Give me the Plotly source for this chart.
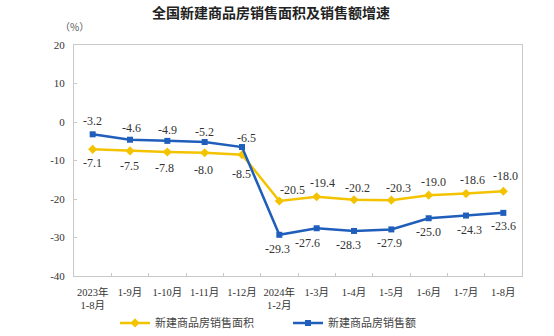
import plotly.graph_objects as go

categories = ["2023年<br>1-8月", "1-9月", "1-10月", "1-11月", "1-12月", "2024年<br>1-2月",
              "1-3月", "1-4月", "1-5月", "1-6月", "1-7月", "1-8月"]
area_growth = [-7.1, -7.5, -7.8, -8.0, -8.5, -20.5, -19.4, -20.2, -20.3, -19.0, -18.6, -18.0]
sales_growth = [-3.2, -4.6, -4.9, -5.2, -6.5, -29.3, -27.6, -28.3, -27.9, -25.0, -24.3, -23.6]
series_names = ["新建商品房销售面积", "新建商品房销售额"]
y_ticks = [20, 10, 0, -10, -20, -30, -40]

YELLOW = "#F4C300"
BLUE = "#1F5EBA"
SERIF = "Liberation Serif, Noto Sans CJK SC"

x = list(range(len(categories)))

# label offsets in pixels (styling only)
area_dx = [0, -1, -3, -1, -1, 13, 6, 3, 7, 5, 6, 2]
area_dy = [14, 15, 16, 17, 19, -11, -14, -12, -12, -13, -14, -15]
sales_dx = [0, 1, 0, 0, 4, -2, -9, -6, -2, 0, 3, 0]
sales_dy = [-13, -12, -11, -10, -9, 14, 15, 14, 14, 14, 14, 13]

fig = go.Figure()
fig.add_trace(go.Scatter(
    x=x, y=area_growth, name=series_names[0], mode="lines+markers",
    line=dict(color=YELLOW, width=2.5),
    marker=dict(symbol="diamond", size=7, color=YELLOW),
))
fig.add_trace(go.Scatter(
    x=x, y=sales_growth, name=series_names[1], mode="lines+markers",
    line=dict(color=BLUE, width=2.5),
    marker=dict(symbol="square", size=6, color=BLUE),
))

annotations = []
for xi, v, dx, dy in zip(x, area_growth, area_dx, area_dy):
    annotations.append(dict(x=xi, y=v, xref="x", yref="y", text=f"{v:.1f}", showarrow=False,
                            xshift=dx, yshift=-dy,
                            font=dict(family=SERIF, size=12, color="#333333")))
for xi, v, dx, dy in zip(x, sales_growth, sales_dx, sales_dy):
    annotations.append(dict(x=xi, y=v, xref="x", yref="y", text=f"{v:.1f}", showarrow=False,
                            xshift=dx, yshift=-dy,
                            font=dict(family=SERIF, size=12, color="#333333")))
annotations.append(dict(text="（%）", xref="paper", yref="paper", x=0.0, y=1.0,
                        xanchor="center", yanchor="bottom", yshift=9, showarrow=False,
                        font=dict(family="Noto Sans CJK SC", size=10, color="#555555")))

fig.update_layout(
    width=554, height=336,
    margin=dict(l=74, r=32, t=45, b=60, autoexpand=False),
    paper_bgcolor="white", plot_bgcolor="white",
    font=dict(family=SERIF, size=11, color="#333333"),
    title=dict(text="全国新建商品房销售面积及销售额增速", x=0.489, xref="container",
               y=0.961, yref="container", xanchor="center", yanchor="middle",
               font=dict(family="Noto Sans CJK SC", size=14, color="#222222", weight="bold")),
    showlegend=True,
    legend=dict(orientation="h", x=115 / 554, xref="container", xanchor="left",
                y=0.039, yref="container", yanchor="middle",
                font=dict(family="Noto Sans CJK SC", size=11, color="#444444"),
                entrywidth=128, entrywidthmode="pixels", itemwidth=30,
                bgcolor="rgba(0,0,0,0)"),
    xaxis=dict(
        range=[-0.5, len(categories) - 0.5], tickmode="array", tickvals=x, ticktext=categories,
        showgrid=False, zeroline=False, showline=True, linecolor="#C8C8C8", linewidth=1,
        mirror=True, ticks="", automargin=False, ticklabelstandoff=6,
        tickfont=dict(family=SERIF, size=10.5, color="#333333"),
        minor=dict(tickmode="array", tickvals=[i + 0.5 for i in x[:-1]], ticks="inside",
                   ticklen=3, tickcolor="#C8C8C8"),
    ),
    yaxis=dict(
        range=[-40, 20], tickmode="array", tickvals=y_ticks, ticktext=[str(t) for t in y_ticks],
        showgrid=False, zeroline=False, showline=True, linecolor="#C8C8C8", linewidth=1,
        mirror=True, ticks="inside", ticklen=3, tickcolor="#C8C8C8", automargin=False,
        ticklabelstandoff=6,
        tickfont=dict(family=SERIF, size=11, color="#333333"),
    ),
    annotations=annotations,
)

fig.write_html("out.html")
